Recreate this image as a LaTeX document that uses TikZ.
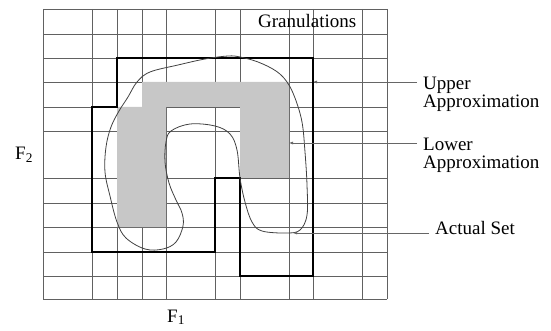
\documentclass[tikz,border=0pt]{standalone}
\usepackage{fontspec}
\setmainfont{Liberation Serif}
\usetikzlibrary{arrows.meta}

\begin{document}
\begin{tikzpicture}[x=1pt, y=-1pt,
    gridline/.style={draw=black!62, line width=0.7pt},
    approx/.style={draw=black, line width=1.8pt, line join=miter},
    lowerset/.style={fill=black!22},
    setcurve/.style={draw=black!75, line width=0.8pt},
    leader/.style={draw=black!60, line width=0.7pt, -{Latex[length=4pt,width=3pt]}},
    lbl/.style={font=\fontsize{19}{18}\selectfont, align=left, inner sep=6pt},
  ]
  \useasboundingbox (0,0) rectangle (551,331);

  % granulation grid
  \foreach \x in {43,92,117,142,166,215,240,289,313,362,387}
    \draw[gridline] (\x,9) -- (\x,299);
  \foreach \y in {9,34,58,82,107,131,178,203,227,252,276,299}
    \draw[gridline] (43,\y) -- (387,\y);

  % lower approximation
  \fill[lowerset] (142,82) -- (289,82) -- (289,178) -- (240,178) -- (240,107)
    -- (166,107) -- (166,227) -- (117,227) -- (117,107) -- (142,107) -- cycle;

  % upper approximation
  \draw[approx] (117,58) -- (313,58) -- (313,276) -- (240,276) -- (240,178)
    -- (215,178) -- (215,252) -- (92,252) -- (92,107) -- (117,107) -- cycle;

  % actual set
  \draw[setcurve] plot[smooth cycle, tension=0.6] coordinates {
    (228,56) (205,59) (178,65) (150,72) (137,82) (128,97) (119,111) (111,127)
    (106,147) (105,172) (110,196) (117,222) (126,238) (145,249) (163,249)
    (176,242) (183,226) (182,213) (176,200) (169,183) (165,162) (166,142)
    (171,131) (190,124) (215,126) (230,134) (237,150) (240,178) (245,202)
    (252,222) (262,231) (287,233) (300,230) (307,215) (307,185) (305,152)
    (302,122) (295,98) (287,82) (276,71) (258,62) (240,57)};

  % labels
  \node[lbl, anchor=base west] (gran) at (252,28) {Granulations};
  \node[lbl, anchor=north west] (upper) at (417,71) {Upper\\Approximation};
  \node[lbl, anchor=north west] (lower) at (417,132) {Lower\\Approximation};
  \node[lbl, anchor=base west] (actual) at (429,234) {Actual Set};
  \node[lbl, anchor=base west] (ftwo) at (9,160) {F\textsubscript{2}};
  \node[lbl, anchor=base west] (fone) at (161,322) {F\textsubscript{1}};

  \coordinate (upperpt) at (313,82);
  \coordinate (lowerpt) at (289,143);
  \coordinate (actualpt) at (293,233);

  \draw[leader] (upper.west |- upperpt) -- (upperpt);
  \draw[leader] (lower.west |- lowerpt) -- (lowerpt);
  \draw[leader] (actual.west |- actualpt) -- (actualpt);
\end{tikzpicture}
\end{document}
